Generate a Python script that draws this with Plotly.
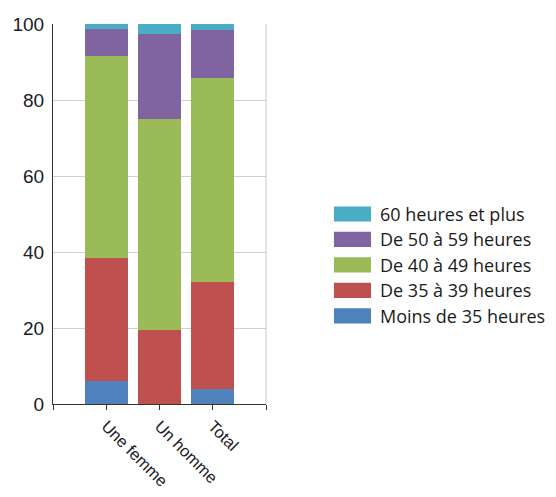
import plotly.graph_objects as go

categories = ["Une femme", "Un homme", "Total"]
series_names = ["Moins de 35 heures", "De 35 à 39 heures", "De 40 à 49 heures",
                "De 50 à 59 heures", "60 heures et plus"]
moins_35 = [6.0, 0.0, 3.9]
de_35_39 = [32.3, 19.5, 28.1]
de_40_49 = [53.2, 55.6, 53.7]
de_50_59 = [7.3, 22.3, 12.6]
plus_60 = [1.2, 2.6, 1.7]
colors = ["#4F81BD", "#C0504D", "#9BBB59", "#8064A2", "#4BACC6"]
y_ticks = [0, 20, 40, 60, 80, 100]

values = [moins_35, de_35_39, de_40_49, de_50_59, plus_60]
xpos = list(range(len(categories)))

fig = go.Figure()
for name, vals, col in zip(series_names, values, colors):
    fig.add_trace(go.Bar(x=xpos, y=vals, name=name, marker_color=col,
                         marker_line_width=0, width=0.8, showlegend=False))

# custom legend (top entry = last series)
legend_top = 0.5
step = 0.067
for i, (name, col) in enumerate(reversed(list(zip(series_names, colors)))):
    yc = legend_top - i * step
    fig.add_shape(type="rect", xref="paper", yref="paper",
                  x0=1.319, x1=1.493, y0=yc - 0.02, y1=yc + 0.02,
                  fillcolor=col, line_width=0)
    fig.add_annotation(xref="paper", yref="paper", x=1.525, y=yc, text=name,
                       showarrow=False, xanchor="left", yanchor="middle",
                       font=dict(family="Open Sans", size=18, color="#1a1a1a"))

fig.add_shape(type="line", xref="paper", yref="paper", x0=1, x1=1, y0=0, y1=1,
              line=dict(color="#c8c8c8", width=1))

# page body has an 8px margin: figure drawn 8px in from the window edge
fig.update_layout(
    barmode="stack",
    width=548, height=489,
    margin=dict(l=45, r=290, t=16, b=93),
    paper_bgcolor="white", plot_bgcolor="white",
    font=dict(family="Liberation Sans, Arial", color="#1a1a2a"),
    xaxis=dict(range=[-1, 3], tickmode="array", tickvals=[-1] + xpos + [3],
               ticktext=[""] + categories + [""], tickangle=45,
               ticks="outside", ticklen=5, tickcolor="#333",
               showline=True, linecolor="#333", linewidth=1,
               showgrid=False, zeroline=False, tickfont=dict(size=16.5),
               automargin=False),
    yaxis=dict(range=[0, 100], tickvals=y_ticks, showgrid=True,
               gridcolor="#d0d0d0", gridwidth=1, showline=True,
               linecolor="#333", linewidth=1, zeroline=False,
               tickfont=dict(size=19), ticks="", ticklabelstandoff=4,
               automargin=False),
)

fig.write_html("out.html")
